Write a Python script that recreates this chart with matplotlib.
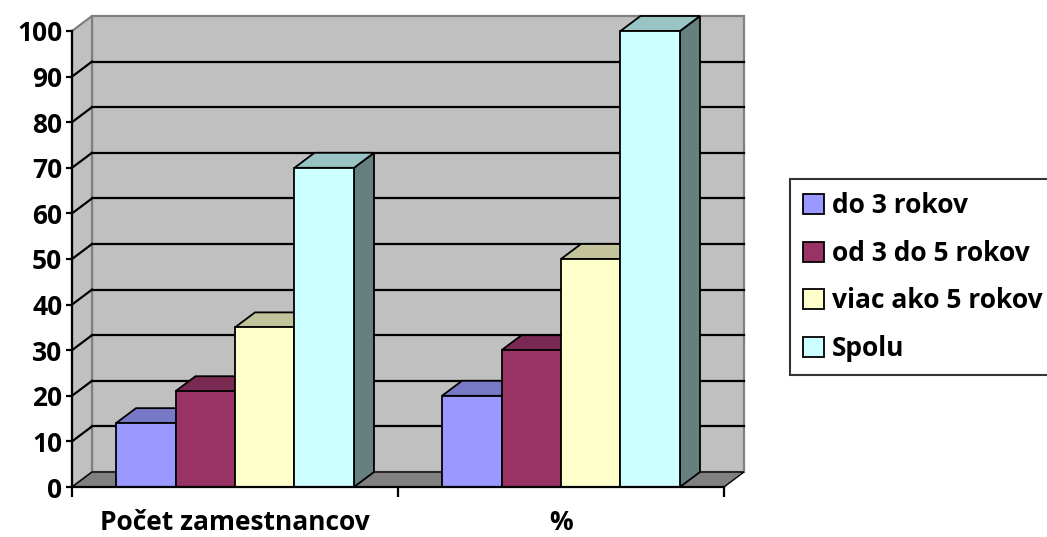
import matplotlib
matplotlib.use("Agg")
import matplotlib.pyplot as plt
from matplotlib.patches import Polygon, Patch
import numpy as np

# ---- data ----
categories = ["Počet zamestnancov", "%"]
series_names = ["do 3 rokov", "od 3 do 5 rokov", "viac ako 5 rokov", "Spolu"]
do_3 = [14, 20]
od_3_do_5 = [21, 30]
viac_5 = [35, 50]
spolu = [70, 100]
series_values = [do_3, od_3_do_5, viac_5, spolu]
yticks = list(range(0, 101, 10))

# ---- style ----
front_colors = ["#9999FF", "#993366", "#FFFFCC", "#CCFFFF"]
top_colors = ["#7878C8", "#7A2952", "#C4C49C", "#99C4C4"]
side_colors = ["#4D4D80", "#4D1A33", "#808066", "#668080"]
FONT = "Open Sans"
FS = 19

W, H, DPI = 1047, 537, 100
fig = plt.figure(figsize=(W / DPI, H / DPI), dpi=DPI)
# front plane of the 3D box in pixels
px_l, px_r, px_b, px_t = 72, 724, 487, 31
ax = fig.add_axes([px_l / W, 1 - px_b / H, (px_r - px_l) / W, (px_b - px_t) / H])
n_cat = len(categories)
ymax = 100
ax.set_xlim(0, n_cat)
ax.set_ylim(0, ymax)

# depth offset (data units)
dx = 20 / ((px_r - px_l) / n_cat)
dy = 15 / ((px_b - px_t) / ymax)

# walls
back = Polygon([(dx, dy), (n_cat + dx, dy), (n_cat + dx, ymax + dy), (dx, ymax + dy)],
               closed=True, facecolor="#C0C0C0", edgecolor="#808080", lw=1.6,
               zorder=1, clip_on=False)
side = Polygon([(0, 0), (dx, dy), (dx, ymax + dy), (0, ymax)], closed=True,
               facecolor="#C0C0C0", edgecolor="#808080", lw=1.6, zorder=1, clip_on=False)
ax.add_patch(back)
ax.add_patch(side)
# gridlines on back wall and side wall
for v in yticks[1:-1]:
    ax.plot([dx, n_cat + dx], [v + dy, v + dy], color="black", lw=1.6, zorder=2, clip_on=False)
    ax.plot([0, dx], [v, v + dy], color="black", lw=1.6, zorder=2, clip_on=False)
# floor
floor = Polygon([(0, 0), (n_cat, 0), (n_cat + dx, dy), (dx, dy)], closed=True,
                facecolor="#808080", edgecolor="black", lw=1.0, zorder=3, clip_on=False)
ax.add_patch(floor)

# bars
bw = 0.1825
x = np.arange(n_cat) + 0.5
ns = len(series_names)
for s, (name, vals) in enumerate(zip(series_names, series_values)):
    offs = (s - (ns - 1) / 2) * bw
    bars = ax.bar(x + offs, vals, width=bw, color=front_colors[s], edgecolor="black",
                  lw=1.3, label=name, clip_on=False)
    for g, rect in enumerate(bars):
        z = 10 + (g * ns + s) * 0.1
        rect.set_zorder(z + 0.05)
        x0 = rect.get_x()
        x1 = x0 + rect.get_width()
        h = rect.get_height()
        sp = Polygon([(x1, 0), (x1 + dx, dy), (x1 + dx, h + dy), (x1, h)], closed=True,
                     facecolor=side_colors[s], edgecolor="black", lw=1.3, zorder=z,
                     clip_on=False)
        tp = Polygon([(x0, h), (x1, h), (x1 + dx, h + dy), (x0 + dx, h + dy)], closed=True,
                     facecolor=top_colors[s], edgecolor="black", lw=1.3, zorder=z,
                     clip_on=False)
        ax.add_patch(sp)
        ax.add_patch(tp)

# axes
for sp_name in ["top", "right"]:
    ax.spines[sp_name].set_visible(False)
for sp_name in ["left", "bottom"]:
    ax.spines[sp_name].set_linewidth(1.6)
    ax.spines[sp_name].set_color("black")
    ax.spines[sp_name].set_zorder(50)
ax.set_yticks(yticks)
ax.set_yticklabels([str(v) for v in yticks])
ax.tick_params(axis="y", direction="out", length=4, width=1.6, pad=3, labelsize=FS)
ax.set_xticks(range(n_cat + 1))
ax.set_xticklabels([""] * (n_cat + 1))
ax.set_xticks(x, minor=True)
ax.set_xticklabels(categories, minor=True)
ax.tick_params(axis="x", which="major", direction="out", length=7, width=1.6)
ax.tick_params(axis="x", which="minor", length=0, pad=16, labelsize=FS)
for lab in ax.get_yticklabels() + ax.get_xticklabels(minor=True):
    lab.set_fontfamily(FONT)
    lab.set_fontweight("bold")

handles = [Patch(facecolor=c, edgecolor="black", lw=1.3) for c in front_colors]
leg = fig.legend(handles, series_names, loc="upper left",
                 bbox_to_anchor=(790 / W, 1 - 179 / H),
                 prop={"family": FONT, "weight": "bold", "size": FS},
                 frameon=True, fancybox=False, edgecolor="black",
                 handlelength=0.78, handleheight=0.78, handletextpad=0.3,
                 labelspacing=0.78, borderpad=0.5, borderaxespad=0)
leg.get_frame().set_linewidth(1.5)

fig.savefig("out.png", dpi=DPI)
